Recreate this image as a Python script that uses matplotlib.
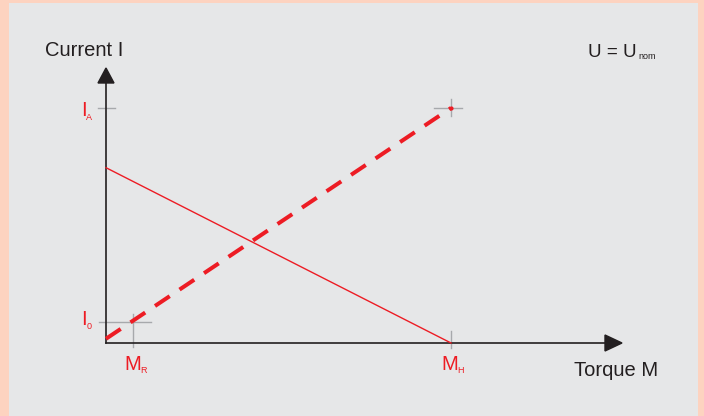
import matplotlib.pyplot as plt
from matplotlib.patches import Rectangle, Polygon

plt.rcParams['font.family'] = ['Liberation Sans', 'DejaVu Sans']

# characteristic values (normalised units)
m_r = 0.078
m_h = 1.0
i_0 = 0.09
i_a = 1.0
i_start = 0.746                     # solid line at M = 0

solid_m = [0.0, m_h]
solid_i = [i_start, 0.0]
dash_m = [0.0, m_h]
dash_i = [0.018, i_a]

RED = '#ed1c24'
GREY = '#a7a9ac'
BLACK = '#231f20'

W, H = 704, 416
fig = plt.figure(figsize=(W / 100, H / 100), dpi=100)
fig.patch.set_facecolor('#fdd3c0')

# axes mapped so that M 0..1 -> x 106..451 px and I 0..1 -> y 343..108 px
px_x, px_y = 345.0, 235.0
x0, y0 = 106, 343
ax = fig.add_axes([0, 0, 1, 1])
ax.set_xlim(-x0 / px_x, (W - x0) / px_x)
ax.set_ylim(-(H - y0) / px_y, y0 / px_y)
ax.axis('off')
ax.add_patch(Rectangle((9 / W, 0), 689 / W, 413 / H, transform=ax.transAxes,
                       facecolor='#e6e7e8', edgecolor='none', zorder=0))


def dx(p):
    return p / px_x


def dy(p):
    return p / px_y


# axes with arrow heads
ax.plot([0, 0], [0, dy(y0 - 83)], color=BLACK, lw=1.2, zorder=3)
ax.plot([0, dx(606 - x0)], [0, 0], color=BLACK, lw=1.2, zorder=3)
ax.add_patch(Polygon([(dx(-8), dy(y0 - 83)), (dx(8), dy(y0 - 83)), (0, dy(y0 - 68))],
                     closed=True, color=BLACK, zorder=3))
ax.add_patch(Polygon([(dx(605 - x0), dy(8)), (dx(605 - x0), dy(-8)), (dx(622 - x0), 0)],
                     closed=True, color=BLACK, zorder=3))

# grey tick marks
ax.plot([dx(-8), dx(9)], [i_a, i_a], color=GREY, lw=1.0, zorder=2)
ax.plot([dx(-7), m_r + dx(18)], [i_0, i_0], color=GREY, lw=1.0, zorder=2)
ax.plot([m_r, m_r], [dy(-4), i_0 + dy(8)], color=GREY, lw=1.0, zorder=2)
ax.plot([m_h, m_h], [dy(-5), dy(12)], color=GREY, lw=1.0, zorder=2)
ax.plot([m_h - dx(17), m_h + dx(11)], [i_a, i_a], color=GREY, lw=1.0, zorder=2)
ax.plot([m_h, m_h], [i_a - dy(8), i_a + dy(9)], color=GREY, lw=1.0, zorder=2)

# characteristic lines
ax.plot(solid_m, solid_i, color=RED, lw=1.0, zorder=4)
ax.plot(dash_m, dash_i, color=RED, lw=2.9, dashes=(4.39, 2.93), solid_capstyle='butt',
        dash_capstyle='butt', zorder=4)
ax.plot([m_h], [i_a], 'o', color=RED, ms=2, zorder=5)


def fx(p):
    return p / W


def fy(p):
    return 1 - p / H


big = 14.5
sub = 6.5
fig.text(fx(45), fy(56), 'Current I', fontsize=big, color=BLACK, va='baseline')
fig.text(fx(574), fy(376), 'Torque M', fontsize=big, color=BLACK, va='baseline')
fig.text(fx(588), fy(57), 'U = U', fontsize=big - 1, color=BLACK, va='baseline')
fig.text(fx(638), fy(59), 'nom', fontsize=sub, color=BLACK, va='baseline')

fig.text(fx(81), fy(116), 'I', fontsize=big, color=RED, va='baseline')
fig.text(fx(86), fy(120), 'A', fontsize=sub, color=RED, va='baseline')
fig.text(fx(81), fy(325), 'I', fontsize=big, color=RED, va='baseline')
fig.text(fx(87), fy(329), '0', fontsize=sub, color=RED, va='baseline')
fig.text(fx(124), fy(370), 'M', fontsize=big, color=RED, va='baseline')
fig.text(fx(140), fy(373), 'R', fontsize=sub, color=RED, va='baseline')
fig.text(fx(441), fy(370), 'M', fontsize=big, color=RED, va='baseline')
fig.text(fx(457), fy(373), 'H', fontsize=sub, color=RED, va='baseline')

fig.savefig('out.png', dpi=100, facecolor=fig.get_facecolor())
